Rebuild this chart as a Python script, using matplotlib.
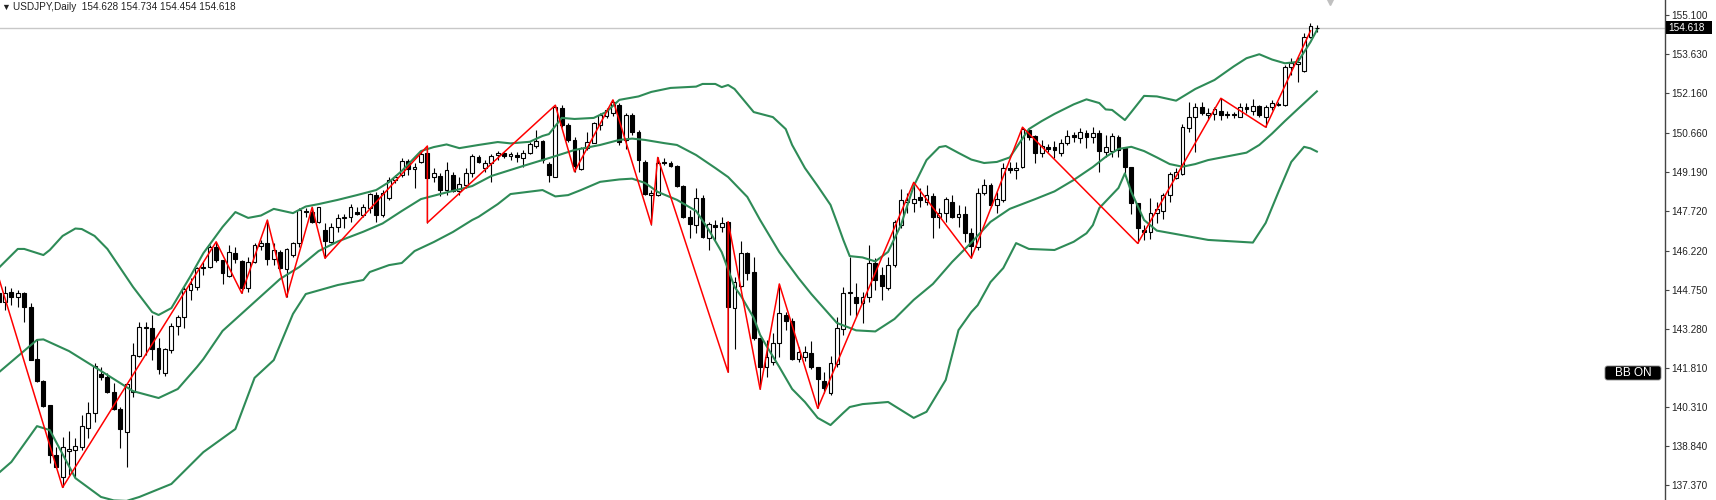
import matplotlib.pyplot as plt
import numpy as np
from matplotlib.patches import Rectangle, FancyBboxPatch
from matplotlib.transforms import IdentityTransform

plt.rcParams['font.family'] = ['Liberation Sans', 'DejaVu Sans']

symbol = 'USDJPY,Daily'
last_ohlc = [154.628, 154.734, 154.454, 154.618]

# daily candles, the first one is cut by the left edge
opens = [144.61,
         144.29, 144.67, 144.48, 144.63, 144.08, 142.12, 141.31, 140.40, 138.51, 137.69,
         138.66, 138.70, 138.80, 139.52, 140.08, 141.56, 141.46, 140.90, 140.23, 139.39,
         140.90, 142.24, 143.31, 143.31, 142.53, 141.61, 142.47, 143.37, 143.73, 144.73,
         144.83, 145.55, 145.61, 146.37, 145.86, 145.26, 146.11, 145.84, 144.80, 145.80,
         146.39, 146.52, 145.89, 146.17, 145.51, 146.05, 146.49, 147.72, 147.68, 147.31,
         146.99, 146.55, 147.10, 147.43, 147.47, 147.68, 147.56, 147.81, 148.31, 147.56,
         148.19, 148.88, 149.07, 149.61, 149.28, 149.57, 149.89, 149.00, 149.03, 148.50,
         149.07, 148.47, 148.69, 149.13, 149.76, 149.32, 149.51, 149.82, 149.89, 149.78,
         149.82, 149.70, 149.91, 150.16, 150.36, 149.48, 149.00, 151.58, 150.95, 150.39,
         149.28, 150.07, 150.28, 150.95, 151.29, 151.42, 151.70, 150.39, 151.33, 150.70,
         149.57, 148.31, 148.31, 149.57, 149.53, 149.41, 148.65, 147.50, 147.18, 148.19,
         146.68, 147.18, 147.10, 147.31, 144.04, 144.88, 146.14, 145.42, 142.91, 141.84,
         142.03, 142.72, 143.79, 143.58, 142.12, 142.22, 142.35, 141.82, 141.31, 140.84,
         141.94, 143.25, 144.61, 144.48, 144.23, 144.48, 145.76, 145.30, 144.80, 145.67,
         147.18, 148.06, 148.02, 148.23, 148.06, 148.28, 147.47, 147.62, 148.06, 147.50,
         147.60, 146.87, 146.37, 148.38, 148.69, 147.94, 148.13, 149.32, 149.26, 149.36,
         150.76, 150.54, 149.91, 150.11, 150.11, 149.91, 150.28, 150.56, 150.45, 150.66,
         150.49, 150.66, 149.95, 149.98, 150.49, 150.07, 149.36, 148.02, 146.99, 146.93,
         147.62, 147.72, 148.31, 148.94, 149.11, 150.83, 151.24, 151.62, 151.33, 151.37,
         151.49, 151.36, 151.36, 151.26, 151.64, 151.49, 151.67, 151.26, 151.62, 151.74,
         151.70, 153.13, 153.25, 153.00, 154.26, 154.628]
highs = [144.73,
         144.88, 144.80, 144.73, 144.67, 144.23, 142.87, 141.34, 140.40, 138.83, 139.18,
         139.42, 139.14, 140.02, 140.52, 141.97, 141.84, 141.59, 141.22, 140.33, 141.22,
         142.72, 143.54, 143.54, 143.79, 142.91, 142.53, 143.48, 143.79, 144.86, 145.17,
         145.61, 145.80, 146.43, 146.55, 145.86, 146.43, 146.37, 145.86, 145.99, 146.49,
         146.62, 147.37, 146.49, 146.24, 146.30, 146.55, 147.81, 147.81, 147.85, 147.87,
         147.27, 147.25, 147.60, 147.60, 147.96, 147.87, 147.96, 148.38, 148.44, 148.50,
         149.00, 149.07, 149.70, 149.66, 149.51, 149.95, 150.16, 149.32, 149.13, 149.57,
         149.19, 149.00, 149.32, 149.86, 149.82, 149.63, 149.86, 149.98, 149.95, 149.95,
         149.95, 150.01, 150.32, 150.76, 150.39, 149.57, 151.70, 151.70, 151.02, 150.49,
         150.13, 150.70, 151.08, 151.39, 151.58, 151.90, 151.77, 151.39, 151.42, 150.76,
         149.63, 148.50, 149.73, 149.70, 149.61, 149.44, 148.69, 147.75, 148.57, 148.31,
         147.31, 147.37, 147.50, 147.31, 145.23, 146.59, 146.17, 145.99, 142.91, 142.85,
         143.10, 144.96, 143.91, 143.67, 142.59, 142.62, 142.82, 141.82, 141.65, 142.24,
         143.73, 144.83, 145.99, 145.00, 144.67, 146.43, 145.93, 145.61, 145.99, 147.37,
         148.53, 148.38, 148.79, 148.57, 148.69, 148.38, 147.81, 148.25, 148.31, 147.94,
         147.90, 147.06, 148.57, 148.90, 148.75, 148.44, 149.51, 149.57, 149.57, 150.87,
         150.83, 150.58, 150.39, 150.24, 150.36, 150.41, 150.76, 150.70, 150.83, 150.76,
         150.87, 150.76, 150.58, 150.64, 150.58, 150.13, 149.36, 148.02, 147.18, 148.19,
         148.06, 148.38, 149.19, 149.32, 150.99, 151.83, 151.79, 151.83, 151.58, 151.64,
         151.96, 151.49, 151.45, 151.77, 151.79, 151.92, 151.70, 151.70, 151.90, 151.83,
         153.22, 153.47, 153.53, 154.43, 154.79, 154.734]
lows = [144.17,
        143.98, 144.17, 144.10, 143.54, 142.09, 141.28, 140.33, 138.20, 138.01, 137.29,
        137.76, 137.69, 138.70, 139.14, 139.77, 141.34, 140.86, 140.21, 138.79, 138.07,
        140.71, 142.22, 142.28, 142.09, 141.56, 141.49, 142.37, 143.03, 143.29, 144.36,
        144.73, 145.30, 145.55, 145.80, 144.96, 145.23, 145.74, 144.61, 144.67, 145.74,
        146.24, 145.67, 145.67, 145.51, 144.46, 145.99, 146.37, 147.50, 147.25, 147.25,
        145.93, 146.49, 146.93, 147.06, 147.31, 147.56, 147.50, 147.62, 147.31, 147.50,
        148.13, 148.78, 149.00, 149.07, 148.57, 149.51, 147.27, 148.81, 148.28, 148.31,
        148.44, 148.31, 148.57, 149.00, 149.51, 149.19, 148.81, 149.63, 149.70, 149.63,
        149.57, 149.36, 149.86, 150.07, 149.51, 148.81, 148.98, 150.89, 150.32, 149.19,
        149.26, 150.01, 150.26, 150.76, 151.20, 151.29, 150.20, 150.04, 150.58, 149.19,
        148.31, 147.20, 148.28, 149.44, 149.36, 148.60, 147.43, 146.68, 146.87, 146.68,
        146.24, 146.62, 146.93, 141.63, 142.50, 144.83, 145.11, 142.85, 140.99, 141.46,
        141.90, 142.22, 143.23, 142.09, 142.03, 142.06, 141.74, 140.27, 140.84, 140.77,
        141.84, 143.03, 143.79, 143.73, 143.48, 144.29, 144.73, 144.36, 144.73, 145.61,
        147.06, 147.62, 147.68, 147.87, 147.94, 146.68, 147.06, 147.31, 147.43, 147.12,
        146.55, 145.93, 146.24, 148.31, 147.87, 147.65, 148.06, 149.13, 148.90, 149.32,
        150.39, 149.51, 149.76, 149.95, 149.70, 149.78, 150.20, 150.32, 150.26, 150.07,
        150.26, 149.19, 149.73, 149.76, 149.76, 149.13, 147.60, 146.49, 146.62, 146.64,
        147.25, 147.40, 148.06, 148.90, 149.07, 150.70, 149.95, 151.33, 151.14, 151.14,
        151.14, 151.20, 151.20, 151.24, 151.39, 151.33, 151.26, 150.87, 151.52, 151.67,
        151.67, 152.84, 152.58, 152.96, 154.22, 154.454]
closes = [144.29,
          144.63, 144.48, 144.63, 144.08, 142.09, 141.31, 140.36, 138.51, 138.05, 138.83,
          138.74, 138.85, 139.60, 140.08, 141.87, 141.46, 140.90, 140.23, 139.48, 141.18,
          142.28, 143.35, 143.35, 142.50, 141.74, 142.50, 143.37, 143.73, 144.76, 144.96,
          145.55, 145.61, 146.37, 145.86, 145.38, 146.17, 145.89, 144.80, 145.80, 146.43,
          146.52, 145.89, 146.24, 145.55, 146.27, 146.49, 147.75, 147.67, 147.31, 147.85,
          146.59, 147.10, 147.43, 147.50, 147.85, 147.60, 147.87, 148.35, 147.56, 148.40,
          148.88, 149.00, 149.61, 149.28, 149.36, 149.86, 148.94, 149.13, 148.50, 149.26,
          148.47, 148.73, 149.15, 149.78, 149.57, 149.51, 149.78, 149.91, 149.78, 149.86,
          149.73, 149.91, 150.24, 150.36, 149.63, 149.07, 151.64, 150.95, 150.39, 149.41,
          150.07, 150.32, 151.02, 151.33, 151.52, 151.83, 150.32, 151.33, 150.70, 149.63,
          148.35, 148.38, 149.53, 149.53, 149.41, 148.65, 147.50, 147.22, 148.19, 146.74,
          147.22, 147.12, 147.27, 144.10, 145.05, 146.14, 145.38, 142.91, 141.84, 142.22,
          142.72, 143.85, 143.58, 142.12, 142.41, 142.41, 141.82, 141.37, 141.03, 141.97,
          143.29, 144.61, 144.64, 144.23, 144.48, 145.74, 145.11, 144.88, 145.67, 147.31,
          148.13, 148.13, 148.15, 148.13, 148.31, 147.50, 147.65, 148.15, 147.50, 147.60,
          146.89, 146.39, 148.38, 148.69, 147.94, 148.15, 149.32, 149.26, 149.32, 150.79,
          150.49, 149.91, 150.16, 150.06, 150.01, 150.28, 150.54, 150.51, 150.70, 150.49,
          150.66, 149.98, 150.13, 150.54, 150.01, 149.36, 148.02, 147.06, 146.93, 147.65,
          147.77, 148.31, 149.11, 149.19, 150.89, 151.26, 151.62, 151.42, 151.39, 151.54,
          151.33, 151.32, 151.32, 151.62, 151.54, 151.67, 151.33, 151.62, 151.79, 151.70,
          153.15, 153.30, 153.34, 154.26, 154.68, 154.618]

# bollinger bands (bar number, price)
up_idx = [-1, 2, 3, 6, 7, 9, 11, 12, 14, 16, 20, 23, 24, 26, 29, 31, 34, 36, 38, 40,
          42, 45, 47, 49, 52, 55, 58, 60, 62, 65, 67, 69, 71, 74, 77, 79, 82, 84, 85, 87,
          89, 92, 94, 96, 99, 101, 104, 108, 109, 111, 112, 113, 114, 117, 120, 122, 123, 125, 127, 129,
          130, 131, 132, 134, 136, 138, 140, 142, 144, 146, 147, 149, 151, 153, 155, 157, 160, 162, 164, 167,
          169, 171, 172, 173, 175, 176, 178, 180, 183, 186, 189, 192, 194, 196, 198, 200, 202, 203, 204, 205]
up_val = [145.56, 146.28, 146.28, 146.05, 146.24, 146.77, 147.05, 147.03, 146.77, 146.28,
          144.85, 143.90, 143.79, 144.05, 145.26, 146.12, 147.11, 147.67, 147.45, 147.54,
          147.79, 147.63, 147.88, 147.97, 148.13, 148.31, 148.50, 148.80, 149.22, 149.97,
          150.12, 150.22, 150.08, 150.20, 150.31, 150.26, 150.32, 150.54, 150.61, 151.22,
          151.18, 151.22, 151.45, 151.90, 152.03, 152.20, 152.35, 152.40, 152.50, 152.50,
          152.38, 152.46, 152.31, 151.44, 151.25, 150.80, 150.20, 149.33, 148.65, 147.94,
          147.29, 146.62, 146.01, 145.96, 145.81, 146.17, 147.18, 148.65, 149.63, 150.12,
          150.16, 149.90, 149.65, 149.52, 149.56, 149.73, 150.80, 151.10, 151.37, 151.73,
          151.92, 151.78, 151.54, 151.52, 151.14, 151.44, 152.05, 152.03, 151.87, 152.31,
          152.65, 153.16, 153.47, 153.62, 153.42, 153.28, 153.33, 153.70, 154.08, 154.53]
mid_idx = [-1, 5, 6, 10, 15, 20, 24, 27, 30, 31, 34, 39, 43, 46, 49, 52, 56, 59, 62, 65,
           68, 73, 76, 81, 86, 89, 93, 96, 98, 100, 103, 105, 108, 111, 113, 116, 118, 121, 124, 126,
           130, 133, 136, 139, 142, 145, 148, 151, 154, 157, 161, 164, 167, 170, 172, 174, 176, 178, 180, 182,
           184, 186, 188, 191, 194, 196, 198, 200, 202, 205]
mid_val = [141.62, 142.85, 142.87, 142.43, 141.68, 140.92, 140.66, 141.00, 141.83, 142.13,
           143.19, 144.28, 145.15, 145.60, 146.20, 146.56, 146.93, 147.24, 147.71, 148.16,
           148.35, 148.65, 149.03, 149.41, 149.78, 150.01, 150.20, 150.39, 150.44, 150.39,
           150.27, 150.20, 149.82, 149.33, 148.99, 148.24, 147.37, 146.16, 145.18, 144.58,
           143.49, 143.21, 143.17, 143.64, 144.36, 144.96, 145.79, 146.52, 147.30, 147.79,
           148.16, 148.45, 148.88, 149.37, 149.75, 150.05, 150.13, 149.97, 149.73, 149.48,
           149.38, 149.48, 149.63, 149.77, 149.91, 150.20, 150.63, 151.10, 151.55, 152.22]
low_idx = [-1, 1, 5, 7, 11, 15, 17, 19, 21, 26, 31, 36, 39, 42, 45, 47, 52, 56, 57, 60,
           62, 64, 67, 70, 73, 74, 77, 79, 84, 86, 88, 90, 93, 96, 98, 100, 102, 105, 108, 110,
           112, 114, 115, 117, 118, 119, 121, 123, 125, 127, 129, 131, 132, 134, 138, 142, 144, 147, 149, 151,
           152, 154, 156, 158, 160, 164, 167, 169, 170, 171, 174, 175, 176, 178, 180, 183, 188, 195, 197, 199,
           201, 203, 204, 205]
low_val = [137.83, 138.25, 139.60, 139.45, 137.64, 136.93, 136.80, 136.78, 136.93, 137.42,
           138.62, 139.49, 141.42, 142.09, 143.83, 144.58, 144.92, 145.11, 145.41, 145.67,
           145.75, 146.20, 146.54, 146.92, 147.37, 147.49, 147.97, 148.35, 148.50, 148.26,
           148.31, 148.50, 148.81, 148.90, 148.93, 148.77, 148.43, 148.13, 147.71, 146.99,
           146.16, 144.85, 144.51, 143.68, 143.04, 142.62, 141.83, 141.00, 140.51, 139.91,
           139.64, 140.10, 140.32, 140.43, 140.51, 139.91, 140.14, 141.34, 143.22, 143.90,
           144.16, 145.03, 145.56, 146.50, 146.28, 146.24, 146.55, 146.87, 147.18, 147.82,
           148.58, 149.13, 148.43, 147.37, 146.97, 146.84, 146.62, 146.52, 147.26, 148.43,
           149.56, 150.13, 150.07, 149.95]

# zigzag turning points (bar number, price)
zz_idx = [-2, 9, 33, 37, 41, 44, 48, 50, 66, 66, 86, 89, 95, 101, 102, 113, 113, 118,
          121, 127, 142, 151, 159, 177, 190, 197, 204]
zz_val = [146.00, 137.29, 146.55, 144.61, 147.37, 144.46, 147.85, 145.93, 150.16, 147.27,
          151.70, 149.19, 151.90, 147.20, 149.73, 141.63, 147.31, 140.99, 144.96, 140.27,
          148.79, 145.93, 150.87, 146.49, 151.96, 150.87, 154.50]

price_ticks = [155.100, 153.630, 152.160, 150.660, 149.190, 147.720, 146.220,
               144.750, 143.280, 141.810, 140.310, 138.840, 137.370]

fig = plt.figure(figsize=(17.16, 5.0), dpi=100)
ax = fig.add_axes([0, 0, 1665 / 1716, 1])
ax.set_xlim(-0.78, 259.4)
ax.set_ylim(136.815, 155.665)

# bid line
ax.axhline(last_ohlc[3], color='#c8c8c8', lw=1.0, zorder=1)

x = np.arange(len(opens)) - 1
for xi, o, h, l, c in zip(x, opens, highs, lows, closes):
    ax.plot([xi, xi], [l, h], color='black', lw=0.8, zorder=2, solid_capstyle='butt')
    face = 'white' if c >= o else 'black'
    ax.add_patch(Rectangle((xi - 0.3, min(o, c)), 0.6, max(abs(c - o), 0.002),
                           facecolor=face, edgecolor='black', lw=0.8, zorder=2.5))

for idx, vals in [(up_idx, up_val), (mid_idx, mid_val), (low_idx, low_val)]:
    ax.plot(idx, vals, color='#2e8b57', lw=1.5, zorder=3)

ax.plot(zz_idx, zz_val, color='red', lw=1.1, zorder=4)

# chart shift marker
ax.plot(x[-1] + 2, 155.665, marker='v', ms=7, color='#c0c0c0', mec='#c0c0c0', zorder=5)

ax.yaxis.tick_right()
ax.set_yticks(price_ticks)
ax.set_yticklabels([f'{t:.3f}' for t in price_ticks])
ax.tick_params(axis='y', length=3, width=0.8, color='#444444', labelsize=7.2,
               labelcolor='#222222', pad=1.5)
ax.set_xticks([])
for s in ['top', 'left', 'bottom']:
    ax.spines[s].set_visible(False)
ax.spines['right'].set_color('#444444')
ax.spines['right'].set_linewidth(1.0)

# current price label on the scale
y_disp = ax.transData.transform((0, last_ohlc[3]))[1]
fig.add_artist(Rectangle((1666, y_disp - 6.5), 46, 13, transform=IdentityTransform(),
                         facecolor='black', edgecolor='none'))
fig.text(1668.5 / 1716, y_disp / 500, f'{last_ohlc[3]:.3f}', color='white',
         fontsize=7.2, ha='left', va='center')

# BB ON button
fig.add_artist(FancyBboxPatch((1605, 120), 56, 14, boxstyle='round,pad=0,rounding_size=2.5',
                              transform=IdentityTransform(), facecolor='black',
                              edgecolor='#888888', lw=0.6))
fig.text(1633 / 1716, 127 / 500, 'BB ON', color='white', fontsize=8.5, ha='center', va='center')

# header
fig.text(1.5 / 1716, 1 - 7 / 500, '\u25bc', fontsize=6.5, color='#222222', va='center')
fig.text(13 / 1716, 1 - 7.5 / 500,
         symbol + '  ' + ' '.join(f'{v:.3f}' for v in last_ohlc),
         fontsize=7.2, color='#222222', va='center')

fig.savefig('out.png', dpi=100)
